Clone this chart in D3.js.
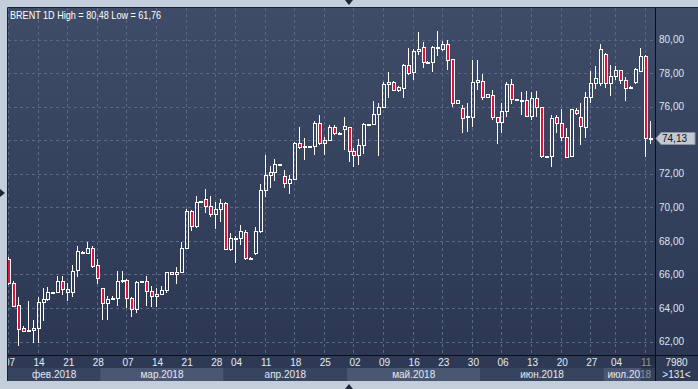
<!DOCTYPE html>
<html><head><meta charset="utf-8">
<script src="https://cdn.jsdelivr.net/npm/d3@7"></script>
<style>body{margin:0;background:#c4cedb;overflow:hidden}svg{display:block}</style>
</head><body><svg id="c" width="698" height="389"></svg>
<script>
// ---------- DATA ----------
const dates = ("02-07 02-08 02-09 02-11 02-12 02-13 02-14 02-15 02-16 02-18 02-19 02-20 02-21 02-22 02-23 02-25 02-26 02-27 02-28 " +
 "03-01 03-02 03-04 03-05 03-06 03-07 03-08 03-09 03-11 03-12 03-13 03-14 03-15 03-16 03-18 03-19 03-20 03-21 03-22 03-23 03-25 03-26 03-27 03-28 03-29 " +
 "04-02 04-03 04-04 04-05 04-06 04-08 04-09 04-10 04-11 04-12 04-13 04-15 04-16 04-17 04-18 04-19 04-20 04-22 04-23 04-24 04-25 04-26 04-27 04-29 04-30 " +
 "05-01 05-02 05-03 05-04 05-06 05-07 05-08 05-09 05-10 05-11 05-13 05-14 05-15 05-16 05-17 05-18 05-20 05-21 05-22 05-23 05-24 05-25 05-27 05-28 05-29 05-30 05-31 " +
 "06-01 06-03 06-04 06-05 06-06 06-07 06-08 06-10 06-11 06-12 06-13 06-14 06-15 06-17 06-18 06-19 06-20 06-21 06-22 06-24 06-25 06-26 06-27 06-28 06-29 " +
 "07-02 07-03 07-04 07-05 07-06 07-08 07-09 07-10 07-11 07-12").split(" ").map(s => "2018-" + s);

const open = [66.92,65.49,64.18,62.83,62.62,62.69,62.81,64.36,64.54,64.93,64.93,65.61,64.95,64.95,66.27,67.34,67.28,67.58,66.56,
 65.19,64.30,64.58,64.60,65.66,65.69,64.60,63.94,65.57,65.63,65.03,64.72,64.84,65.09,66.13,66.03,66.15,67.56,69.76,68.91,70.34,70.50,70.10,69.60,69.90,
 70.26,67.49,68.17,68.19,68.53,66.96,67.25,68.57,71.01,71.90,72.12,72.54,71.86,71.47,71.70,73.81,73.63,73.64,73.65,75.00,73.85,74.01,74.77,74.44,74.69,
 74.77,73.34,73.10,73.71,74.92,74.94,75.54,75.96,77.33,77.47,76.97,77.09,78.48,78.04,79.29,79.53,78.66,78.68,79.50,79.45,79.73,78.82,76.20,75.90,75.44,75.40,77.45,
 77.51,76.59,76.67,75.36,75.06,75.72,77.35,76.43,76.41,76.39,75.46,76.49,75.96,73.04,73.06,75.36,75.00,74.17,73.06,75.80,75.40,74.81,76.56,77.39,77.39,
 79.12,77.39,77.83,78.18,77.59,77.17,77.49,78.14,79.01,74.11];
const high = [67.05,65.60,64.66,62.90,64.42,63.31,64.66,65.19,65.23,64.95,65.89,65.89,65.49,66.58,67.68,67.38,67.95,67.70,66.92,
 65.20,64.70,64.74,66.19,66.23,65.73,64.65,65.60,65.62,65.89,65.29,65.19,65.29,66.15,66.15,66.44,67.91,69.90,69.86,70.66,70.38,71.09,70.66,70.30,70.50,
 70.30,68.45,68.31,68.94,68.65,67.05,68.80,71.39,73.11,72.48,72.86,72.60,72.20,71.92,73.91,74.76,74.11,73.68,75.15,75.50,74.21,74.91,74.91,74.47,75.40,
 74.81,73.52,74.07,75.04,74.96,76.36,76.20,77.47,78.04,77.55,77.20,78.54,79.47,79.41,80.47,79.83,78.70,79.61,80.48,79.90,79.97,78.85,76.40,76.10,76.20,78.78,78.78,
 77.95,76.75,76.99,75.40,76.20,77.45,77.63,76.45,76.89,76.95,76.89,76.95,76.00,73.08,75.50,75.50,75.84,74.71,75.84,75.90,76.20,76.89,78.14,78.43,79.73,
 79.20,78.49,78.43,78.20,77.79,77.21,78.28,79.47,79.05,75.16];
const low = [65.40,64.05,61.76,62.60,62.55,61.92,61.92,63.21,64.40,64.87,64.89,64.80,64.40,64.66,65.85,67.30,67.20,66.38,65.45,
 63.27,63.27,64.46,64.10,65.50,64.00,63.46,63.70,65.55,64.10,64.06,64.06,64.80,64.89,66.00,65.43,66.10,67.50,68.57,68.77,70.32,69.66,69.40,68.73,69.11,
 67.45,67.40,66.70,67.75,66.86,66.90,67.15,68.45,70.63,71.14,71.59,72.50,71.14,70.82,71.66,73.45,72.82,73.60,73.10,73.71,73.10,73.97,74.30,74.42,73.41,
 72.73,72.38,72.50,73.18,74.90,74.90,73.06,75.90,76.54,76.95,76.90,76.53,77.88,77.58,79.09,78.32,78.64,78.08,79.00,79.30,78.18,76.00,76.15,74.45,74.50,74.81,76.99,
 76.40,76.55,75.20,73.77,74.45,75.40,76.13,76.40,75.50,75.40,75.20,75.40,72.95,73.02,72.42,74.45,73.97,72.92,73.00,75.50,73.71,74.11,76.20,77.05,77.20,
 77.13,76.63,77.60,77.33,76.35,77.15,77.35,78.10,73.02,73.77];
const close = [65.49,64.14,62.75,62.65,62.70,62.81,64.36,64.54,64.95,64.89,65.61,65.13,65.13,66.23,67.38,67.36,67.58,66.52,65.79,
 64.30,64.56,64.62,65.63,65.69,64.60,63.94,65.57,65.59,65.03,64.72,64.84,65.09,66.13,66.03,66.15,67.56,69.76,68.91,70.30,70.36,70.10,69.60,69.90,70.26,
 67.52,68.15,68.19,68.57,66.96,67.00,68.57,71.01,71.90,72.12,72.56,72.56,71.47,71.66,73.81,73.61,73.65,73.66,75.00,73.85,74.01,74.77,74.41,74.45,74.85,
 73.34,73.10,73.69,74.94,74.94,75.56,75.96,77.33,77.47,76.99,77.15,78.48,77.98,79.29,79.45,78.66,78.68,79.53,79.55,79.73,78.78,76.20,76.37,75.30,75.46,77.45,77.59,
 76.59,76.73,75.40,75.06,75.74,77.35,76.43,76.41,76.39,75.46,76.49,75.96,73.06,73.06,75.30,75.00,74.17,73.02,75.84,75.60,74.86,76.55,77.39,77.69,79.41,
 77.39,77.83,78.18,77.59,77.13,77.19,78.22,79.01,74.11,74.13];

const weekTicks = ["2018-02-07","2018-02-14","2018-02-21","2018-02-28","2018-03-07","2018-03-14","2018-03-21","2018-03-28",
 "2018-04-04","2018-04-11","2018-04-18","2018-04-25","2018-05-02","2018-05-09","2018-05-16","2018-05-23","2018-05-30",
 "2018-06-06","2018-06-13","2018-06-20","2018-06-27","2018-07-04","2018-07-11"];
const months = ["02","03","04","05","06","07"];
const monthLabels = ["фев.2018","мар.2018","апр.2018","май.2018","июн.2018","июл.2018"];
const priceTicks = [62,64,66,68,70,72,74,76,78,80];
const lastPrice = 74.13;
const titleText = "BRENT 1D High = 80,48 Low = 61,76";
const cornerTop = "7980", cornerBottom = ">131<";

// ---------- LAYOUT ----------
const W = 698, H = 389;
const pL = 8, pT = 8, pR = 655, pB = 355, axB = 381;
const FONT = "Liberation Sans, Arial, sans-serif";
const svg = d3.select("#c");
const fmt = v => v.toFixed(2).replace(".", ",");

const x = d3.scalePoint().domain(dates).range([9, 9 + (dates.length - 1) * 4.935]);
const step = x.step();
const y = d3.scaleLinear().domain([62, 80]).range([341.6, 39.5]);

const defs = svg.append("defs");
const gr = defs.append("linearGradient").attr("id", "bg").attr("x1", 0).attr("y1", 0).attr("x2", 0).attr("y2", 1);
gr.append("stop").attr("offset", 0).attr("stop-color", "#3f4c67");
gr.append("stop").attr("offset", 1).attr("stop-color", "#2c3853");
defs.append("clipPath").attr("id", "plotClip").append("rect").attr("x", pL).attr("y", pT).attr("width", pR - pL).attr("height", pB - pT);
defs.append("clipPath").attr("id", "axClip").append("rect").attr("x", pL).attr("y", pB).attr("width", pR - pL).attr("height", axB - pB);

// outer frame
svg.append("rect").attr("width", W).attr("height", H).attr("fill", "#c4cedb");
svg.append("path").attr("d", "M345,0 L353,0 L349,5 Z").attr("fill", "#1d2636");
svg.append("path").attr("d", "M0,189 L0,197 L5,193 Z").attr("fill", "#1d2636");
svg.append("path").attr("d", "M345,389 L353,389 L349,384 Z").attr("fill", "#1d2636");

// backgrounds
svg.append("rect").attr("x", pL).attr("y", pT).attr("width", W - pL).attr("height", pB - pT).attr("fill", "url(#bg)");
svg.append("rect").attr("x", pL).attr("y", pB).attr("width", W - pL).attr("height", axB - pB).attr("fill", "#2e3a55");

// month bands
const monthStart = months.map(m => dates.findIndex(d => d.slice(5, 7) === m));
monthStart.forEach((si, k) => {
  const x0 = k === 0 ? pL : x(dates[si]) - step / 2;
  const x1 = k === months.length - 1 ? pR : x(dates[monthStart[k + 1]]) - step / 2;
  svg.append("rect").attr("x", x0).attr("y", 368).attr("width", x1 - x0).attr("height", axB - 368)
    .attr("fill", k % 2 ? "#4a5773" : "#37445f");
  svg.append("text").attr("x", (x0 + x1) / 2).attr("y", 377.5).attr("text-anchor", "middle")
    .attr("font-family", FONT).attr("font-size", 10).attr("fill", "#e4eaf3")
    .text(monthLabels[k]);
});

// grid
const grid = svg.append("g").attr("clip-path", "url(#plotClip)").attr("stroke", "#58678a").attr("stroke-dasharray", "3,3").attr("stroke-width", 1);
grid.selectAll("line.h").data(priceTicks).join("line")
  .attr("x1", pL).attr("x2", pR).attr("y1", d => Math.round(y(d)) + 0.5).attr("y2", d => Math.round(y(d)) + 0.5);
grid.selectAll("line.v").data(weekTicks).join("line")
  .attr("x1", d => Math.round(x(d)) - 0.5).attr("x2", d => Math.round(x(d)) - 0.5).attr("y1", pT).attr("y2", pB);

// candles
const data = dates.map((d, i) => ({ d, o: open[i], h: high[i], l: low[i], c: close[i] }));
const cg = svg.append("g").attr("clip-path", "url(#plotClip)");
data.forEach(p => {
  const cx = Math.round(x(p.d));
  const top = Math.round(y(Math.max(p.o, p.c)));
  const bot = Math.round(y(Math.min(p.o, p.c)));
  const h = Math.max(bot - top, 1);
  const hy = Math.round(y(p.h)), ly = Math.round(y(p.l));
  const wx = cx - 0.5;
  if (hy < top) cg.append("line").attr("x1", wx).attr("x2", wx).attr("y1", hy).attr("y2", top + 0.5).attr("stroke", "#fff");
  if (ly > top + h) cg.append("line").attr("x1", wx).attr("x2", wx).attr("y1", top + h + 0.5).attr("y2", ly).attr("stroke", "#fff");
  cg.append("rect").attr("x", cx - 1.5).attr("y", top + 0.5).attr("width", 3).attr("height", h)
    .attr("fill", p.c < p.o ? "#e0123c" : "none").attr("stroke", "#fff").attr("stroke-width", 1);
});

// borders
svg.append("line").attr("x1", pL - 0.5).attr("x2", W).attr("y1", pT - 0.5).attr("y2", pT - 0.5).attr("stroke", "#1a2130");
svg.append("line").attr("x1", pL - 0.5).attr("x2", pL - 0.5).attr("y1", pT - 0.5).attr("y2", axB).attr("stroke", "#1a2130");
svg.append("line").attr("x1", pR + 0.5).attr("x2", pR + 0.5).attr("y1", pT).attr("y2", axB).attr("stroke", "#0b0f18");
svg.append("line").attr("x1", pL).attr("x2", W).attr("y1", pB + 0.5).attr("y2", pB + 0.5).attr("stroke", "#0b0f18");

// right axis (tick hidden under the last-price marker is omitted, as in the reference)
const ly0 = Math.round(y(lastPrice)) + 0.5;
const shownTicks = priceTicks.filter(v => Math.abs(y(v) - ly0) > 9);
const ya = svg.append("g").attr("transform", `translate(${pR},0)`)
  .call(d3.axisRight(y).tickValues(shownTicks).tickFormat(fmt).tickSize(0).tickPadding(4));
ya.select(".domain").remove();
ya.selectAll("text").attr("font-family", FONT).attr("font-size", 10).attr("fill", "#dbe5f4");

// last price label
svg.append("path").attr("d", `M${pR + 1},${ly0} L${pR + 6},${ly0 - 6} L${W - 3},${ly0 - 6} L${W - 3},${ly0 + 6} L${pR + 6},${ly0 + 6} Z`)
  .attr("fill", "#c3c9d1").attr("stroke", "#8c939c");
svg.append("text").attr("x", pR + 7).attr("y", ly0 + 3.5).attr("font-family", FONT)
  .attr("font-size", 10).attr("fill", "#111").text(fmt(lastPrice));

// bottom axis (day labels), clipped to plot width
const xaWrap = svg.append("g").attr("clip-path", "url(#axClip)");
const xa = xaWrap.append("g").attr("transform", `translate(0,${pB})`)
  .call(d3.axisBottom(x).tickValues(weekTicks).tickFormat(d => d.slice(8)).tickSize(0).tickPadding(4));
xa.select(".domain").remove();
xa.selectAll("text").attr("font-family", FONT).attr("font-size", 10).attr("fill", "#e4eaf3");

// current bar highlight
const curX = x(weekTicks[weekTicks.length - 1]);
svg.append("rect").attr("x", curX - 5).attr("y", pB + 1).attr("width", pR - (curX - 5)).attr("height", axB - pB - 1)
  .attr("fill", "#1c2538").attr("opacity", 0.45);

// corner texts
svg.append("text").attr("x", (pR + W) / 2).attr("y", 365.5).attr("text-anchor", "middle")
  .attr("font-family", FONT).attr("font-size", 10).attr("fill", "#e4eaf3").text(cornerTop);
svg.append("text").attr("x", (pR + W) / 2).attr("y", 378).attr("text-anchor", "middle")
  .attr("font-family", FONT).attr("font-size", 10).attr("fill", "#e4eaf3").text(cornerBottom);

// title
svg.append("text").attr("x", 10).attr("y", 19).attr("font-family", FONT)
  .attr("font-size", 10.5).attr("fill", "#ffffff").attr("textLength", 151).attr("lengthAdjust", "spacingAndGlyphs").text(titleText);
</script></body></html>
